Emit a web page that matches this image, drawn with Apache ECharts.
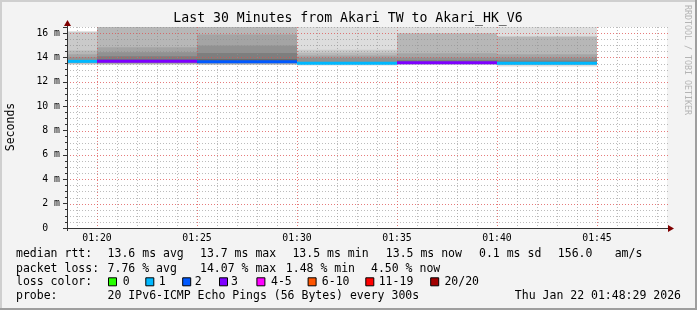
<!DOCTYPE html>
<html><head><meta charset="utf-8">
<script src="https://cdn.jsdelivr.net/npm/echarts@6/dist/echarts.min.js"></script>
<style>html,body{margin:0;padding:0;background:#f3f3f3}#c{width:697px;height:310px}</style>
</head><body><div id="c"></div>
<script>
// ---------------- data ----------------
const windowStart = '01:18:30';
const windowEnd = '01:48:30';
const stepEnds = ['01:20:00', '01:25:00', '01:30:00', '01:35:00', '01:40:00', '01:45:00'];
const stepSeconds = 300;
const medianRtt = [13.68, 13.68, 13.64, 13.53, 13.56, 13.53];   // ms
const lossBucket = [1, 3, 2, 1, 3, 1];                          // index into lossLabels
// smoke bands per step: [low ms, high ms, shade level (1 = outermost/lightest)]
const smoke0120 = [[13.42, 16.13, 2], [13.50, 14.57, 3], [13.55, 14.26, 4], [13.60, 14.02, 5]];
const smoke0125 = [[13.42, 16.80, 3], [13.50, 14.84, 4], [13.55, 14.43, 5], [13.60, 14.10, 6], [13.63, 13.83, 7]];
const smoke0130 = [[13.40, 16.80, 3], [13.50, 15.88, 4], [13.55, 14.98, 5], [13.58, 14.37, 6], [13.60, 13.87, 7]];
const smoke0135 = [[13.34, 16.80, 1], [13.45, 14.63, 2], [13.50, 14.38, 3], [13.52, 14.16, 4], [13.55, 13.97, 5]];
const smoke0140 = [[13.38, 16.80, 1], [13.45, 15.99, 3], [13.50, 14.35, 4], [13.53, 13.99, 5], [13.55, 13.80, 6]];
const smoke0145 = [[13.25, 16.80, 1], [13.40, 15.72, 3], [13.45, 14.26, 4], [13.50, 13.99, 5], [13.52, 13.75, 6]];
const smokeBySteps = [smoke0120, smoke0125, smoke0130, smoke0135, smoke0140, smoke0145];
const yMin = 0, yMax = 16.5, yStep = 2, yMinorStep = 0.5;
const xLabelTimes = ['01:20:00', '01:25:00', '01:30:00', '01:35:00', '01:40:00', '01:45:00'];
const lossLabels = ['0', '1', '2', '3', '4-5', '6-10', '11-19', '20/20'];
const rttNames = ['avg', 'max', 'min', 'now'];
const rttValues = [13.6, 13.7, 13.5, 13.5];
const rttSd = 0.1;
const rttAmS = 156.0;
const lossNames = ['avg', 'max', 'min', 'now'];
const lossValues = [7.76, 14.07, 1.48, 4.50];
const titleText = 'Last 30 Minutes from Akari TW to Akari_HK_V6';
const probeText = '20 IPv6-ICMP Echo Pings (56 Bytes) every 300s';
const stampText = 'Thu Jan 22 01:48:29 2026';

// ---------------- styles ----------------
const lossColors = ['#26ff00', '#00b8ff', '#0059ff', '#7e00ff', '#ff00ff', '#ff5500', '#ff0000', '#a10000'];
const MONO = '"DejaVu Sans Mono", monospace';
const GRID_MINOR = 'rgba(143,143,143,0.6)', GRID_MAJOR = 'rgba(222,80,80,0.75)';
function shade(l) { const g = Math.round(221 - 19 * (l - 1)); return 'rgb(' + g + ',' + g + ',' + g + ')'; }
function ts(hms) { const p = hms.split(':').map(Number); return new Date(2026, 0, 22, p[0], p[1], p[2]).getTime(); }

const t0 = ts(windowStart), t1 = ts(windowEnd);
const smokeData = [];
smokeBySteps.forEach((bands, i) => {
  const e = ts(stepEnds[i]); const s = Math.max(e - stepSeconds * 1000, t0);
  bands.forEach(b => smokeData.push([s, e, b[0], b[1], b[2]]));
});
const medianData = medianRtt.map((m, i) => {
  const e = ts(stepEnds[i]); const s = Math.max(e - stepSeconds * 1000, t0);
  return [s, e, m, lossBucket[i]];
});
const vGrid = [];
for (let t = Math.ceil(t0 / 60000) * 60000; t <= t1; t += 60000) vGrid.push([t, (new Date(t).getMinutes() % 5 === 0) ? 1 : 0]);
const hGrid = [];
for (let v = yMin + yMinorStep; v <= yMax + 1e-9; v += yMinorStep) hGrid.push([v, (Math.abs(v / yStep - Math.round(v / yStep)) < 1e-9) ? 1 : 0]);

function clipR(r, cs) {
  return echarts.graphic.clipRectByRect(r, { x: cs.x, y: cs.y, width: cs.width, height: cs.height });
}

const chart = echarts.init(document.getElementById('c'), null, { renderer: 'canvas' });

const gfx = [];
gfx.push({ type: 'rect', shape: { x: 0, y: 0, width: 697, height: 2 }, style: { fill: '#cfcfcf' }, z: 100 });
gfx.push({ type: 'rect', shape: { x: 0, y: 0, width: 2, height: 310 }, style: { fill: '#cfcfcf' }, z: 100 });
gfx.push({ type: 'rect', shape: { x: 695, y: 0, width: 2, height: 310 }, style: { fill: '#9e9e9e' }, z: 100 });
gfx.push({ type: 'rect', shape: { x: 0, y: 308, width: 697, height: 2 }, style: { fill: '#9e9e9e' }, z: 100 });
function txt(x, y, s, opt) {
  return { type: 'text', x: x, y: y, z: 50, style: Object.assign({ text: s, font: '11.5px ' + MONO, fill: '#000', verticalAlign: 'middle' }, opt || {}) };
}
gfx.push(txt(348, 19, titleText, { font: '13.2px ' + MONO, align: 'center' }));
gfx.push(Object.assign(txt(11, 127, 'Seconds', { align: 'center' }), { rotation: Math.PI / 2 }));
gfx.push(Object.assign(txt(687, 60, 'RRDTOOL / TOBI OETIKER', { font: '8.3px ' + MONO, fill: '#b4b4b4', align: 'center' }), { rotation: -Math.PI / 2 }));
const row = [254.3, 268.7, 282.3, 296.3];
const rttX = [107.6, 200, 292.4, 385.8];
gfx.push(txt(16, row[0], 'median rtt:'));
rttValues.forEach((v, i) => gfx.push(txt(rttX[i], row[0], v.toFixed(1) + ' ms ' + rttNames[i])));
gfx.push(txt(479, row[0], rttSd.toFixed(1) + ' ms sd'));
gfx.push(txt(557.8, row[0], rttAmS.toFixed(1)));
gfx.push(txt(614.7, row[0], 'am/s'));
const lossX = [107.6, 200, 285.8, 371];
gfx.push(txt(16, row[1], 'packet loss:'));
lossValues.forEach((v, i) => gfx.push(txt(lossX[i], row[1], v.toFixed(2) + ' % ' + lossNames[i])));
gfx.push(txt(16, row[2], 'loss color:'));
const boxX = [108, 145.3, 182.2, 219, 256.4, 307.6, 365.3, 430.2];
const boxLabelX = [122.7, 158.7, 194.7, 231, 271, 321.8, 378.7, 444.4];
lossLabels.forEach((l, i) => {
  gfx.push({ type: 'rect', z: 50, shape: { x: boxX[i] + 0.5, y: row[2] - 4.5, width: 8, height: 8 }, style: { fill: lossColors[i], stroke: '#000', lineWidth: 1 } });
  gfx.push(txt(boxLabelX[i], row[2], l));
});
gfx.push(txt(16, row[3], 'probe:'));
gfx.push(txt(107.6, row[3], probeText));
gfx.push(txt(681, row[3], stampText, { align: 'right' }));
gfx.push({ type: 'line', z: 60, shape: { x1: 67.5, y1: 231, x2: 67.5, y2: 22 }, style: { stroke: '#333', lineWidth: 1 } });
gfx.push({ type: 'polygon', z: 61, shape: { points: [[67.5, 20], [64, 26], [71, 26]] }, style: { fill: '#7f0000' } });
gfx.push({ type: 'line', z: 60, shape: { x1: 64, y1: 228.5, x2: 672, y2: 228.5 }, style: { stroke: '#333', lineWidth: 1 } });
gfx.push({ type: 'polygon', z: 61, shape: { points: [[674, 228.5], [668, 225], [668, 232]] }, style: { fill: '#7f0000' } });

const option = {
  animation: false,
  backgroundColor: '#f3f3f3',
  grid: { left: 67, top: 27, width: 600, height: 201, show: true, backgroundColor: '#ffffff', borderWidth: 0 },
  xAxis: {
    type: 'value', min: t0, max: t1,
    axisLine: { show: false },
    axisTick: { show: false },
    splitLine: { show: false },
    axisLabel: {
      customValues: xLabelTimes.map(ts),
      formatter: v => { const d = new Date(v); return String(d.getHours()).padStart(2, '0') + ':' + String(d.getMinutes()).padStart(2, '0'); },
      fontFamily: MONO, fontSize: 9.8, color: '#000', margin: 5
    }
  },
  yAxis: {
    type: 'value', min: yMin, max: yMax, interval: yStep,
    axisLine: { show: false },
    axisTick: { show: true, length: 4, lineStyle: { color: '#333' } },
    minorTick: { show: true, splitNumber: 4, length: 2, lineStyle: { color: '#333' } },
    splitLine: { show: false },
    axisLabel: {
      formatter: v => (v === 0 ? '0  ' : v + ' m'),
      fontFamily: MONO, fontSize: 9.8, color: '#000', margin: 7, showMaxLabel: false
    }
  },
  graphic: { elements: gfx },
  series: [
    {
      type: 'custom', name: 'smoke', z: 2, data: smokeData, silent: true,
      renderItem: (params, api) => {
        const a = api.coord([api.value(0), api.value(3)]);
        const b = api.coord([api.value(1), api.value(2)]);
        const r = clipR({ x: a[0], y: a[1], width: b[0] - a[0], height: b[1] - a[1] }, params.coordSys);
        return r ? { type: 'rect', shape: r, style: { fill: shade(api.value(4)) } } : null;
      }
    },
    {
      type: 'custom', name: 'median', z: 4, data: medianData, silent: true,
      renderItem: (params, api) => {
        const a = api.coord([api.value(0), api.value(2)]);
        const b = api.coord([api.value(1), api.value(2)]);
        return { type: 'line', shape: { x1: a[0], y1: a[1], x2: b[0], y2: b[1] }, style: { stroke: lossColors[api.value(3)], lineWidth: 3 } };
      }
    },
    {
      type: 'custom', name: 'vgrid', z: 3, data: vGrid, silent: true,
      renderItem: (params, api) => {
        const p = api.coord([api.value(0), yMin]); const cs = params.coordSys;
        const major = api.value(1) === 1;
        return { type: 'line', shape: { x1: Math.round(p[0]) + 0.5, y1: cs.y, x2: Math.round(p[0]) + 0.5, y2: cs.y + cs.height },
          style: { stroke: major ? GRID_MAJOR : GRID_MINOR, lineWidth: 1, lineDash: [1, 2] } };
      }
    },
    {
      type: 'custom', name: 'hgrid', z: 3, data: hGrid, silent: true,
      renderItem: (params, api) => {
        const p = api.coord([t0, api.value(0)]); const cs = params.coordSys;
        const major = api.value(1) === 1;
        return { type: 'line', shape: { x1: cs.x, y1: Math.round(p[1]) + 0.5, x2: cs.x + cs.width + 2, y2: Math.round(p[1]) + 0.5 },
          style: { stroke: major ? GRID_MAJOR : GRID_MINOR, lineWidth: 1, lineDash: [1, 2] } };
      }
    }
  ]
};
chart.setOption(option);
</script></body></html>
